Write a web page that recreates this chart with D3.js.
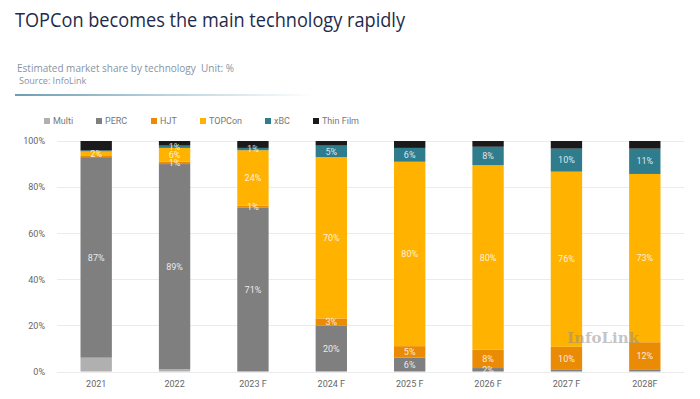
<!DOCTYPE html>
<html>
<head>
<meta charset="utf-8">
<script src="https://cdn.jsdelivr.net/npm/d3@7"></script>
<style>
  body { margin: 0; background: #fff; }
  svg { display: block; }
</style>
</head>
<body>
<div id="canvas"></div>
<script>
// data (percent of each year's total)
var years = ["2021", "2022", "2023 F", "2024 F", "2025 F", "2026 F", "2027 F", "2028F"];
var multi = [6, 1, 0, 0, 0, 0, 0, 0];
var perc = [87, 89, 71, 20, 6, 1.5, 0.7, 0.7];
var hjt = [0.5, 1, 1, 3, 5, 8, 10, 12];
var topcon = [2, 6, 24, 70, 80, 80, 76, 73];
var xbc = [0.4, 1, 1, 5, 6, 8, 10, 11];
var thinFilm = [4.1, 2, 3, 2, 3, 2.5, 3.3, 3.3];
var seriesNames = ["Multi", "PERC", "HJT", "TOPCon", "xBC", "Thin Film"];
var yTicks = [0, 20, 40, 60, 80, 100];

var colors = {
  "Multi": "#b0b0b0",
  "PERC": "#7f7f7f",
  "HJT": "#ea8b05",
  "TOPCon": "#ffb200",
  "xBC": "#2f7c8d",
  "Thin Film": "#1a1a1a"
};
// which series get a value label
var labelled = { "PERC": true, "HJT": true, "TOPCon": true, "xBC": true };

var width = 700, height = 399;
var margin = { top: 141, right: 16, bottom: 27, left: 57 };

var svg = d3.select("#canvas").append("svg")
  .attr("width", width)
  .attr("height", height);

// header
svg.append("text")
  .attr("x", 15).attr("y", 27)
  .attr("textLength", 390).attr("lengthAdjust", "spacingAndGlyphs")
  .style("font-family", "'Open Sans', sans-serif")
  .style("font-size", "20px")
  .style("fill", "#1f2b4a")
  .text("TOPCon becomes the main technology rapidly");

svg.append("text")
  .attr("x", 17).attr("y", 72)
  .style("white-space", "pre")
  .style("font-family", "'Open Sans', sans-serif")
  .style("font-size", "10px")
  .style("fill", "#8793a3")
  .text("Estimated market share by technology  Unit: %");

svg.append("text")
  .attr("x", 19).attr("y", 84)
  .style("font-family", "'Open Sans', sans-serif")
  .style("font-size", "9px")
  .style("fill", "#8793a3")
  .text("Source: InfoLink");

var grad = svg.append("defs").append("linearGradient")
  .attr("id", "rule").attr("x1", "0").attr("x2", "1");
grad.append("stop").attr("offset", "0").attr("stop-color", "#6f9db3");
grad.append("stop").attr("offset", "0.5").attr("stop-color", "#b9d2dc");
grad.append("stop").attr("offset", "1").attr("stop-color", "#ffffff");
svg.append("rect")
  .attr("x", 15).attr("y", 94).attr("width", 300).attr("height", 2)
  .style("fill", "url(#rule)");

// scales
var x = d3.scaleBand()
  .domain(years)
  .range([margin.left, width - margin.right])
  .paddingInner(0.6)
  .paddingOuter(0.3);

var y = d3.scaleLinear()
  .domain([0, 100])
  .range([height - margin.bottom - 0.5, margin.top]);

// grid lines
svg.append("g").selectAll("line")
  .data(yTicks)
  .enter().append("line")
  .attr("x1", margin.left).attr("x2", width - margin.right)
  .attr("y1", function(d) { return Math.round(y(d)) + 0.5; })
  .attr("y2", function(d) { return Math.round(y(d)) + 0.5; })
  .style("stroke", "#ebebeb")
  .style("stroke-width", 1);

// y axis
var yAxis = svg.append("g")
  .attr("transform", "translate(" + (margin.left - 9) + ",0)")
  .call(d3.axisLeft(y).tickValues(yTicks).tickSize(0).tickFormat(function(d) { return d + "%"; }));
yAxis.select(".domain").remove();
yAxis.selectAll("text")
  .style("font-family", "Roboto, sans-serif")
  .style("font-size", "9px")
  .style("fill", "#666");

// x axis
var xAxis = svg.append("g")
  .attr("transform", "translate(0," + (height - margin.bottom + 6) + ")")
  .call(d3.axisBottom(x).tickSize(0));
xAxis.select(".domain").remove();
xAxis.selectAll("text")
  .style("font-family", "Roboto, sans-serif")
  .style("font-size", "9px")
  .style("fill", "#666");

// stack
var rows = years.map(function(yr, i) {
  return {
    year: yr,
    "Multi": multi[i],
    "PERC": perc[i],
    "HJT": hjt[i],
    "TOPCon": topcon[i],
    "xBC": xbc[i],
    "Thin Film": thinFilm[i]
  };
});
var stacked = d3.stack().keys(seriesNames)(rows);

var layer = svg.append("g").selectAll("g")
  .data(stacked)
  .enter().append("g")
  .style("fill", function(d) { return colors[d.key]; });

layer.selectAll("rect")
  .data(function(d) { return d; })
  .enter().append("rect")
  .attr("x", function(d) { return x(d.data.year); })
  .attr("width", x.bandwidth())
  .attr("y", function(d) { return y(d[1]); })
  .attr("height", function(d) { return y(d[0]) - y(d[1]); });

// value labels
stacked.forEach(function(s) {
  if (!labelled[s.key]) return;
  svg.append("g").selectAll("text")
    .data(s.filter(function(d) { return d[1] - d[0] >= 1; }))
    .enter().append("text")
    .attr("x", function(d) { return x(d.data.year) + x.bandwidth() / 2; })
    .attr("y", function(d) { return (y(d[0]) + y(d[1])) / 2; })
    .attr("dy", "0.35em")
    .attr("text-anchor", "middle")
    .style("font-family", "Roboto, sans-serif")
    .style("font-size", "9px")
    .style("fill", "#ffffff")
    .style("fill-opacity", 0.85)
    .text(function(d) { return Math.round(d[1] - d[0]) + "%"; });
});

// legend
var legendX = [44, 96, 151, 200, 265, 313];
var legend = svg.append("g").selectAll("g")
  .data(seriesNames)
  .enter().append("g")
  .attr("transform", function(d, i) { return "translate(" + legendX[i] + ",121)"; });
legend.append("rect")
  .attr("x", 0).attr("y", -3).attr("width", 6).attr("height", 6)
  .style("fill", function(d) { return colors[d]; });
legend.append("text")
  .attr("x", 9).attr("dy", "0.35em")
  .style("font-family", "Roboto, sans-serif")
  .style("font-size", "9px")
  .style("fill", "#777")
  .text(function(d) { return d; });

// watermark
svg.append("text")
  .attr("x", 567).attr("y", 343)
  .style("font-family", "'DejaVu Serif', serif")
  .style("font-size", "15px")
  .style("font-weight", "bold")
  .style("fill", "#8c8c8c")
  .style("fill-opacity", 0.5)
  .text("InfoLink");
</script>
</body>
</html>
